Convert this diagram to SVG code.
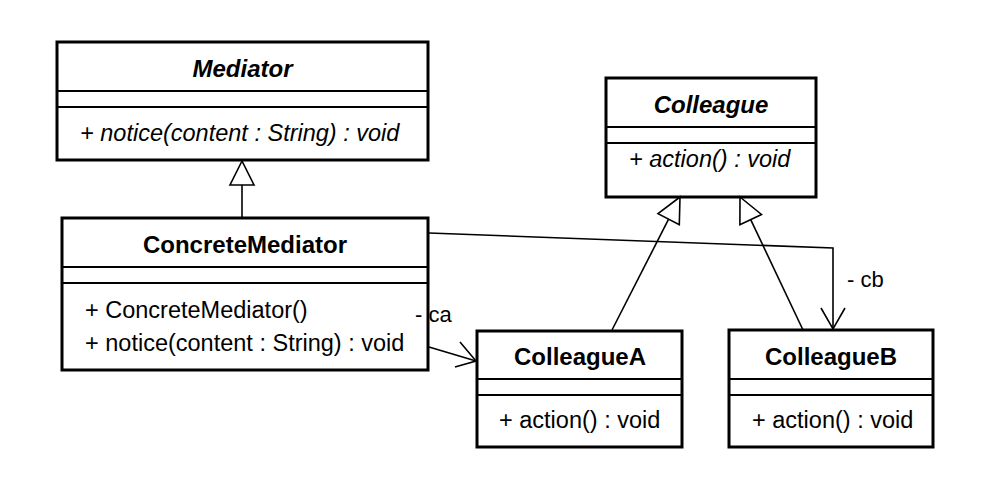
<svg xmlns="http://www.w3.org/2000/svg" width="1004" height="488" viewBox="0 0 1004 488">
<style>
.box{fill:#fff;stroke:#000;stroke-width:3}
.div{stroke:#000;stroke-width:2}
.t{font-family:"Liberation Sans",Arial,sans-serif;fill:#000}
.name{font-size:24px;font-weight:bold;text-anchor:middle}
.abs{font-style:italic}
.m{font-size:23.5px}
.it{font-style:italic}
.lbl{font-size:22px}
.ln{fill:none;stroke:#000;stroke-width:1.6}
.tri{fill:#fff;stroke:#000;stroke-width:1.6;stroke-linejoin:miter}
</style>
<rect width="1004" height="488" fill="#fff"/>
<g id="Mediator">
  <rect class="box" x="57" y="42" width="371" height="118"/>
  <line class="div" x1="57" y1="91" x2="428" y2="91"/>
  <line class="div" x1="57" y1="107" x2="428" y2="107"/>
  <text class="t name abs" x="242.5" y="77">Mediator</text>
  <text class="t m it" x="80" y="141">+ notice(content : String) : void</text>
</g>
<g id="ConcreteMediator">
  <rect class="box" x="62" y="218" width="366" height="152"/>
  <line class="div" x1="62" y1="267" x2="428" y2="267"/>
  <line class="div" x1="62" y1="283" x2="428" y2="283"/>
  <text class="t name" x="245" y="253">ConcreteMediator</text>
  <text class="t m" x="85" y="318">+ ConcreteMediator()</text>
  <text class="t m" x="85" y="351">+ notice(content : String) : void</text>
</g>
<g id="Colleague">
  <rect class="box" x="606" y="78" width="210" height="119"/>
  <line class="div" x1="606" y1="127" x2="816" y2="127"/>
  <line class="div" x1="606" y1="143" x2="816" y2="143"/>
  <text class="t name abs" x="711" y="113">Colleague</text>
  <text class="t m it" x="629" y="167">+ action() : void</text>
</g>
<g id="ColleagueA">
  <rect class="box" x="477" y="331" width="205" height="116"/>
  <line class="div" x1="477" y1="379" x2="682" y2="379"/>
  <line class="div" x1="477" y1="395" x2="682" y2="395"/>
  <text class="t name" x="580" y="365">ColleagueA</text>
  <text class="t m" x="499" y="428">+ action() : void</text>
</g>
<g id="ColleagueB">
  <rect class="box" x="729" y="330" width="204" height="117"/>
  <line class="div" x1="729" y1="379" x2="933" y2="379"/>
  <line class="div" x1="729" y1="395" x2="933" y2="395"/>
  <text class="t name" x="831" y="365">ColleagueB</text>
  <text class="t m" x="752" y="428">+ action() : void</text>
</g>
<g id="connectors">
  <line class="ln" x1="242" y1="218" x2="242" y2="185"/>
  <polygon class="tri" points="242,161 230,185 254,185"/>
  <line class="ln" x1="612" y1="330" x2="668.6" y2="219.2"/>
  <polygon class="tri" points="680,197 658,213.7 679.3,224.7"/>
  <line class="ln" x1="803" y1="330" x2="750.7" y2="219.6"/>
  <polygon class="tri" points="740,197 761.5,214.5 739.9,224.7"/>
  <polyline class="ln" points="429,233 833,248 833,329"/>
  <polyline class="ln" points="821,308 833,329 845,308"/>
  <line class="ln" x1="429" y1="347" x2="476" y2="361"/>
  <polyline class="ln" points="460,342 476,361 455,367"/>
  <text class="t lbl" x="415" y="322">- ca</text>
  <text class="t lbl" x="847" y="287">- cb</text>
</g>
</svg>
